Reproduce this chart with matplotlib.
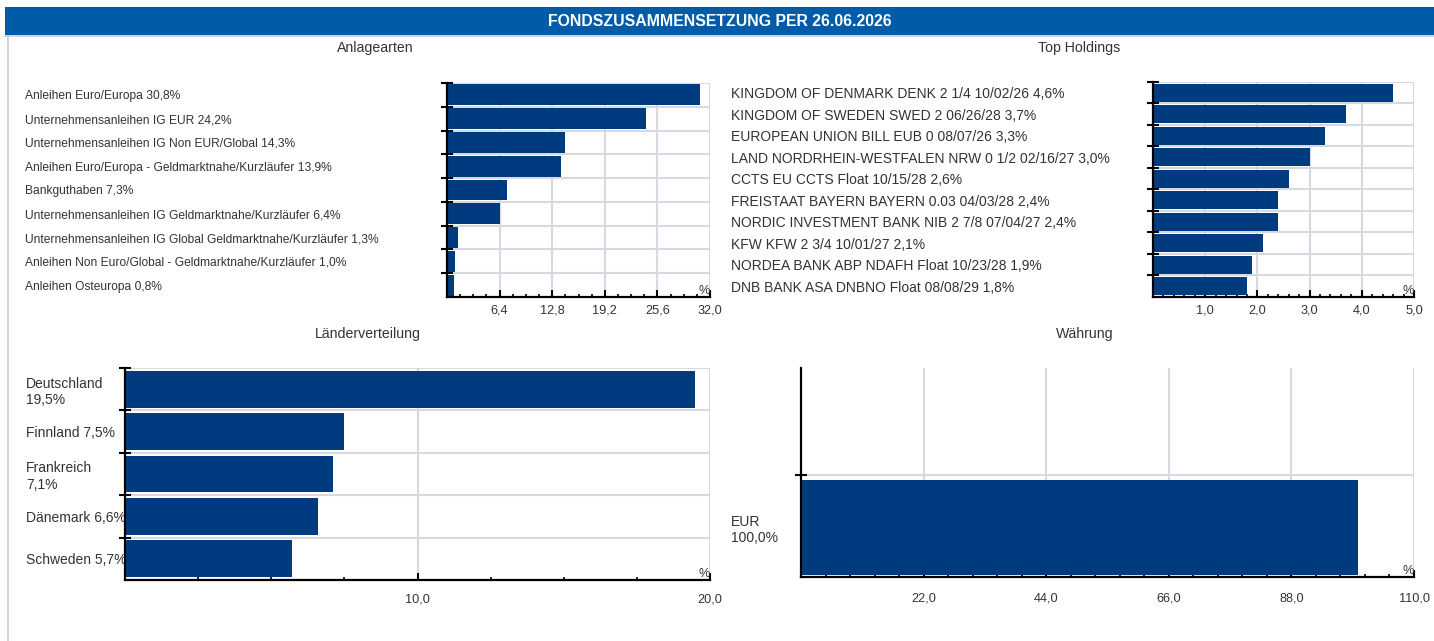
import numpy as np
import matplotlib
matplotlib.use("Agg")
import matplotlib.pyplot as plt
from matplotlib.patches import Rectangle
from matplotlib.lines import Line2D
from matplotlib.transforms import blended_transform_factory
from matplotlib.ticker import FixedLocator, MultipleLocator

plt.rcParams['font.family'] = ['Liberation Sans', 'DejaVu Sans']

# ---- data ----
title = "FONDSZUSAMMENSETZUNG PER 26.06.2026"

asset_labels = [
    "Anleihen Euro/Europa 30,8%",
    "Unternehmensanleihen IG EUR 24,2%",
    "Unternehmensanleihen IG Non EUR/Global 14,3%",
    "Anleihen Euro/Europa - Geldmarktnahe/Kurzläufer 13,9%",
    "Bankguthaben 7,3%",
    "Unternehmensanleihen IG Geldmarktnahe/Kurzläufer 6,4%",
    "Unternehmensanleihen IG Global Geldmarktnahe/Kurzläufer 1,3%",
    "Anleihen Non Euro/Global - Geldmarktnahe/Kurzläufer 1,0%",
    "Anleihen Osteuropa 0,8%",
]
asset_values = [30.8, 24.2, 14.3, 13.9, 7.3, 6.4, 1.3, 1.0, 0.8]
asset_ticks = [6.4, 12.8, 19.2, 25.6, 32.0]

holding_labels = [
    "KINGDOM OF DENMARK DENK 2 1/4 10/02/26 4,6%",
    "KINGDOM OF SWEDEN SWED 2 06/26/28 3,7%",
    "EUROPEAN UNION BILL EUB 0 08/07/26 3,3%",
    "LAND NORDRHEIN-WESTFALEN NRW 0 1/2 02/16/27 3,0%",
    "CCTS EU CCTS Float 10/15/28 2,6%",
    "FREISTAAT BAYERN BAYERN 0.03 04/03/28 2,4%",
    "NORDIC INVESTMENT BANK NIB 2 7/8 07/04/27 2,4%",
    "KFW KFW 2 3/4 10/01/27 2,1%",
    "NORDEA BANK ABP NDAFH Float 10/23/28 1,9%",
    "DNB BANK ASA DNBNO Float 08/08/29 1,8%",
]
holding_values = [4.6, 3.7, 3.3, 3.0, 2.6, 2.4, 2.4, 2.1, 1.9, 1.8]
holding_ticks = [1.0, 2.0, 3.0, 4.0, 5.0]

country_labels = ["Deutschland\n19,5%", "Finnland 7,5%", "Frankreich\n7,1%",
                  "Dänemark 6,6%", "Schweden 5,7%"]
country_values = [19.5, 7.5, 7.1, 6.6, 5.7]
country_ticks = [10.0, 20.0]

currency_labels = ["EUR\n100,0%"]
currency_values = [100.0]
currency_ticks = [22.0, 44.0, 66.0, 88.0, 110.0]

# ---- style ----
W, H = 1434, 641
BAR = "#003B80"
GRID = "#D5D9E2"
TXT = "#333333"
HEAD = "#005CA8"

fig = plt.figure(figsize=(W / 100, H / 100), dpi=100)


def px_axes(left, top, right, bottom):
    return fig.add_axes([left / W, 1 - bottom / H, (right - left) / W, (bottom - top) / H])


def fx(x):
    return x / W


def fy(y):
    return 1 - y / H


# header band and frame
fig.patches.append(Rectangle((fx(5), fy(35)), fx(W - 5), (35 - 7) / H,
                             transform=fig.transFigure, facecolor=HEAD,
                             edgecolor="none", zorder=0))
fig.lines.append(Line2D([fx(5), 1], [fy(36), fy(36)], transform=fig.transFigure,
                        color="#C8CDD6", lw=1.2))
fig.lines.append(Line2D([fx(7.5), fx(7.5)], [fy(36), 0], transform=fig.transFigure,
                        color="#CCCCCC", lw=1.2))
fig.text(fx(720), fy(21), title, color="white", fontsize=11.4, fontweight="bold",
         ha="center", va="center")

# panel headings
HFS = 10.2
fig.text(fx(375), fy(48), "Anlagearten", fontsize=HFS, color=TXT, ha="center", va="center")
fig.text(fx(1079), fy(48), "Top Holdings", fontsize=HFS, color=TXT, ha="center", va="center")
fig.text(fx(368), fy(334), "Länderverteilung", fontsize=HFS, color=TXT, ha="center", va="center")
fig.text(fx(1085), fy(334), "Währung", fontsize=HFS, color=TXT, ha="center", va="center")


def fmt(v):
    return f"{v:.1f}".replace(".", ",")


def panel(box, labels, values, ticks, minor_step, label_x, label_fs,
          bar_h=0.88, ylim=None, linespacing=1.2, pad=5.5):
    ax = px_axes(*box)
    n = len(values)
    pos = np.arange(n)[::-1]
    ax.barh(pos, values, height=bar_h, color=BAR, zorder=2)
    ax.set_xlim(0, ticks[-1])
    if ylim is None:
        ylim = (-0.5, n - 0.5)
    ax.set_ylim(*ylim)
    ax.set_axisbelow(True)

    ax.xaxis.set_major_locator(FixedLocator(ticks))
    ax.xaxis.set_minor_locator(MultipleLocator(minor_step))
    ax.set_xticklabels([fmt(t) for t in ticks])
    bounds = [k + 0.5 for k in range(n)]
    ax.yaxis.set_major_locator(FixedLocator(bounds))
    ax.set_yticklabels([])

    ax.grid(axis="both", which="major", color=GRID, lw=1.5, zorder=0)
    for s in ("top", "right"):
        ax.spines[s].set_visible(False)
    for s in ("left", "bottom"):
        ax.spines[s].set_color("black")
        ax.spines[s].set_linewidth(1.6)
        ax.spines[s].set_zorder(3)
    ax.tick_params(axis="x", which="major", direction="in", length=5, width=1.5,
                   color="black", labelsize=9.2, labelcolor=TXT, pad=pad)
    ax.tick_params(axis="x", which="minor", direction="in", length=2.2, width=1.2,
                   color="black")
    ax.tick_params(axis="y", which="major", direction="inout", length=9, width=1.5,
                   color="black")
    ax.text(1.0, 0.0, "%", transform=ax.transAxes, ha="right", va="bottom",
            fontsize=9.2, color=TXT)

    tr = blended_transform_factory(fig.transFigure, ax.transData)
    for p, lab in zip(pos, labels):
        ax.text(fx(label_x), p, lab, transform=tr, ha="left", va="center_baseline",
                fontsize=label_fs, color=TXT, linespacing=linespacing, clip_on=False)
    return ax


panel((447, 83, 710, 297), asset_labels, asset_values, asset_ticks, 1.6, 25, 8.65)
panel((1153, 82, 1414, 297), holding_labels, holding_values, holding_ticks, 0.2, 731, 10,
      bar_h=0.86)
panel((125, 368, 710, 580), country_labels, country_values, country_ticks, 2.5, 26, 10,
      bar_h=0.87, pad=9.5)
panel((801, 368, 1414, 577), currency_labels, currency_values, currency_ticks, 4.4, 731, 10,
      bar_h=0.9, ylim=(-0.47, 1.52), pad=11)

fig.savefig("out.png", dpi=100, facecolor="white")
